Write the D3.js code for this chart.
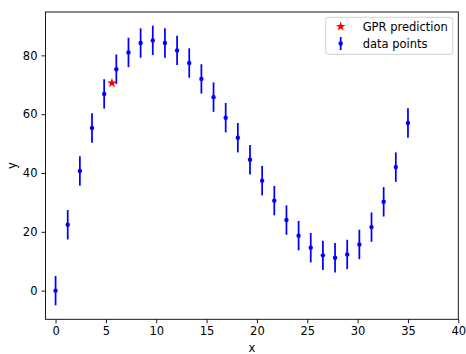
<!DOCTYPE html>
<html>
<head>
<meta charset="utf-8">
<script src="https://cdn.jsdelivr.net/npm/d3@7"></script>
<style>
  html, body { margin: 0; padding: 0; background: #fff; }
  svg { display: block; font-family: "DejaVu Sans", sans-serif; }
</style>
</head>
<body>
<svg id="chart" width="466" height="354"></svg>
<script>
// Data
const xValues = d3.range(30).map(i => i * 35 / 29); // 0 .. 35, 30 evenly spaced points
const yValues = [0, 22.4, 40.7, 55.3, 66.9, 75.3, 81.0, 84.2, 85.1, 84.2,
                 81.7, 77.4, 72.0, 65.8, 58.8, 52.0, 44.5, 37.4, 30.6, 24.0,
                 18.7, 14.6, 12.0, 11.2, 12.3, 15.7, 21.6, 30.2, 42.0, 57.0];
const yErrors = new Array(30).fill(5);
const predX = [5.6];
const predY = [70.6];
const xTicks = [0, 5, 10, 15, 20, 25, 30, 35, 40];
const yTicks = [0, 20, 40, 60, 80];
const legendLabels = ["GPR prediction", "data points"];

const svg = d3.select("#chart");
const mLeft = 45.5, mTop = 12, pw = 412.8, ph = 307.3;
const fontSize = 11.5;

const x = d3.scaleLinear().domain([-1, 40]).range([mLeft, mLeft + pw]);
const y = d3.scaleLinear().domain([-9.75, 94.75]).range([mTop + ph, mTop]);

// Error bars
const g = svg.append("g");
g.selectAll("line.err").data(xValues).join("line")
  .attr("class", "err")
  .attr("x1", (d) => x(d)).attr("x2", (d) => x(d))
  .attr("y1", (d, i) => y(yValues[i] - yErrors[i]))
  .attr("y2", (d, i) => y(yValues[i] + yErrors[i]))
  .attr("stroke", "#0000ff").attr("stroke-width", 1.75);
g.selectAll("circle.pt").data(xValues).join("circle")
  .attr("class", "pt")
  .attr("cx", (d) => x(d)).attr("cy", (d, i) => y(yValues[i]))
  .attr("r", 2.2).attr("fill", "#0000ff");

// Star marker
const star = d3.symbol().type(d3.symbolStar).size(30);
g.selectAll("path.star").data(predX).join("path")
  .attr("class", "star")
  .attr("transform", (d, i) => `translate(${x(d)},${y(predY[i])})`)
  .attr("d", star).attr("fill", "#ff0000");

// Axes
const xAxis = d3.axisBottom(x).tickValues(xTicks).tickSize(4).tickPadding(4);
const yAxis = d3.axisLeft(y).tickValues(yTicks).tickSize(4).tickPadding(4);
const gx = svg.append("g").attr("transform", `translate(0,${mTop + ph})`).call(xAxis);
const gy = svg.append("g").attr("transform", `translate(${mLeft},0)`).call(yAxis);
[gx, gy].forEach(a => {
  a.select(".domain").remove();
  a.selectAll("line").attr("stroke", "#000").attr("stroke-width", 0.9);
  a.selectAll("text").attr("fill", "#000").style("font-size", fontSize + "px")
    .style("font-family", "DejaVu Sans, sans-serif");
});

// Frame
svg.append("rect").attr("x", mLeft).attr("y", mTop).attr("width", pw).attr("height", ph)
  .attr("fill", "none").attr("stroke", "#000").attr("stroke-width", 0.9);

// Axis labels
svg.append("text").attr("x", mLeft + pw / 2).attr("y", 352)
  .attr("text-anchor", "middle").style("font-size", fontSize + "px").text("x");
svg.append("text").attr("transform", `translate(16,${mTop + ph / 2}) rotate(-90)`)
  .attr("text-anchor", "middle").style("font-size", fontSize + "px").text("y");

// Legend
const lg = svg.append("g");
lg.append("rect").attr("x", 325.7).attr("y", 17.3).attr("width", 127).attr("height", 37)
  .attr("rx", 2.5).attr("fill", "#fff").attr("fill-opacity", 0.8)
  .attr("stroke", "#cccccc").attr("stroke-width", 0.9);
lg.append("path").attr("transform", "translate(340.7,26.5)").attr("d", star).attr("fill", "#ff0000");
lg.append("line").attr("x1", 340.7).attr("x2", 340.7).attr("y1", 37).attr("y2", 50)
  .attr("stroke", "#0000ff").attr("stroke-width", 1.75);
lg.append("circle").attr("cx", 340.7).attr("cy", 43.5).attr("r", 2.2).attr("fill", "#0000ff");
lg.selectAll("text").data(legendLabels).join("text")
  .attr("x", 362.7).attr("y", (d, i) => 26.5 + i * 17)
  .attr("dy", "0.35em").style("font-size", fontSize + "px").text(d => d);
</script>
</body>
</html>
